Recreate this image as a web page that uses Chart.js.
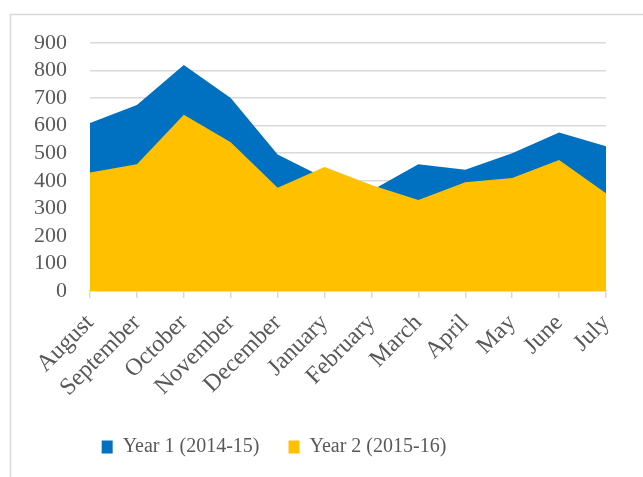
<!DOCTYPE html>
<html>
<head>
<meta charset="utf-8">
<script src="https://cdn.jsdelivr.net/npm/chart.js@4.4.1/dist/chart.umd.min.js"></script>
<style>
  html, body { margin: 0; padding: 0; background: #fff; }
  #wrap { width: 643px; height: 477px; position: relative; }
</style>
</head>
<body>
<div id="wrap"><canvas id="chart" width="643" height="477"></canvas></div>
<script>
const months = ['August', 'September', 'October', 'November', 'December', 'January',
  'February', 'March', 'April', 'May', 'June', 'July'];
const year1 = [610, 675, 820, 700, 495, 410, 365, 460, 440, 500, 575, 525];
const year2 = [430, 460, 640, 540, 375, 450, 385, 330, 395, 410, 475, 355];
const seriesNames = ['Year 1 (2014-15)', 'Year 2 (2015-16)'];
const yTicks = [0, 100, 200, 300, 400, 500, 600, 700, 800, 900];

const BLUE = '#0070C0';
const GOLD = '#FFC000';
const GRID = '#D9D9D9';
const TEXT = '#595959';

// light frame round the chart (cut off at right and bottom, as in the picture)
const frame = {
  id: 'frame',
  beforeDraw(chart) {
    const ctx = chart.ctx;
    ctx.save();
    ctx.strokeStyle = GRID;
    ctx.lineWidth = 1.5;
    ctx.beginPath();
    ctx.moveTo(10.5, chart.height);
    ctx.lineTo(10.5, 14.5);
    ctx.lineTo(chart.width, 14.5);
    ctx.stroke();
    ctx.restore();
  },
  // legend centred on the frame, which runs past the right edge
  afterLayout(chart) {
    const lg = chart.legend;
    lg.left = 10;
    lg.right = 538;
    lg.top = 408;
    lg.bottom = lg.top + lg.height;
  },
};

new Chart(document.getElementById('chart'), {
  type: 'line',
  data: {
    labels: months,
    datasets: [
      {
        label: seriesNames[0],
        data: year1,
        backgroundColor: BLUE,
        borderColor: BLUE,
        borderWidth: 0,
        fill: 'origin',
        pointRadius: 0,
        tension: 0,
        order: 2,
      },
      {
        label: seriesNames[1],
        data: year2,
        backgroundColor: GOLD,
        borderColor: GOLD,
        borderWidth: 0,
        fill: 'origin',
        pointRadius: 0,
        tension: 0,
        order: 1,
      },
    ],
  },
  options: {
    responsive: false,
    animation: false,
    layout: {padding: {top: 43, left: 30, right: 37, bottom: 0}},
    scales: {
      x: {
        offset: false,
        afterFit: (axis) => { axis.height = 127; },
        grid: {drawOnChartArea: false, drawTicks: true, tickLength: 7, color: GRID, lineWidth: 1.5},
        border: {display: true, color: GRID, width: 1.5},
        ticks: {
          color: TEXT,
          font: {family: 'Liberation Serif', size: 24},
          minRotation: 45,
          maxRotation: 45,
          padding: 11,
          autoSkip: false,
        },
      },
      y: {
        min: 0,
        max: 900,
        afterBuildTicks: (axis) => {
          axis.ticks = yTicks.map((v) => ({value: v}));
        },
        afterFit: (axis) => { axis.width = 60; },
        grid: {drawTicks: false, color: GRID, lineWidth: 1.5},
        border: {display: false},
        ticks: {
          color: TEXT,
          font: {family: 'Liberation Serif', size: 22},
          padding: 23,
          autoSkip: false,
        },
      },
    },
    plugins: {
      tooltip: {enabled: false},
      legend: {
        position: 'bottom',
        labels: {
          color: TEXT,
          font: {family: 'Liberation Serif', size: 20},
          boxWidth: 11,
          boxHeight: 13,
          padding: 29,
          sort: (a, b) => a.datasetIndex - b.datasetIndex,
        },
      },
    },
  },
  plugins: [frame],
});
</script>
</body>
</html>
